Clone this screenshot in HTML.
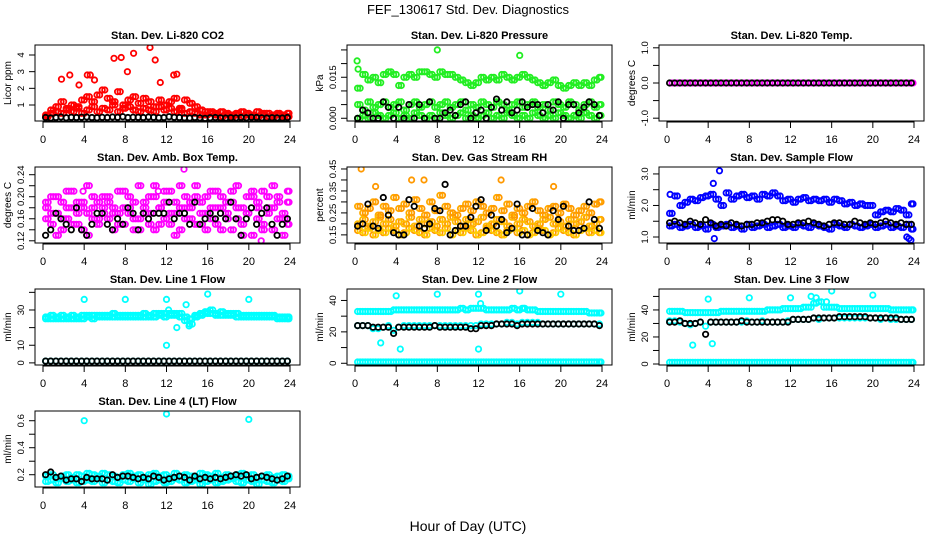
<!DOCTYPE html>
<html><head><meta charset="utf-8"><style>
html,body{margin:0;padding:0;background:#fff;}
svg{display:block;font-family:"Liberation Sans",Arial,sans-serif;}
</style></head><body>
<svg id="chart" width="936" height="540" viewBox="0 0 936 540" xmlns="http://www.w3.org/2000/svg">
<text x="468" y="14" text-anchor="middle" font-size="13">FEF_130617  Std. Dev. Diagnostics</text>
<text x="468" y="531" text-anchor="middle" font-size="14">Hour of Day (UTC)</text>
</svg>
<script>
const hours=[0.25,0.75,1.25,1.75,2.25,2.75,3.25,3.75,4.25,4.75,5.25,5.75,6.25,6.75,7.25,7.75,8.25,8.75,9.25,9.75,10.25,10.75,11.25,11.75,12.25,12.75,13.25,13.75,14.25,14.75,15.25,15.75,16.25,16.75,17.25,17.75,18.25,18.75,19.25,19.75,20.25,20.75,21.25,21.75,22.25,22.75,23.25,23.75];
const hoursB=[0.5,1.0,1.5,2.0,2.5,3.0,3.5,4.0,4.5,5.0,5.5,6.0,6.5,7.0,7.5,8.0,8.5,9.0,9.5,10.0,10.5,11.0,11.5,12.0,12.5,13.0,13.5,14.0,14.5,15.0,15.5,16.0,16.5,17.0,17.5,18.0,18.5,19.0,19.5,20.0,20.5,21.0,21.5,22.0,22.5,23.0,23.5,23.9];
const xTicks=[0,4,8,12,16,20,24];
const co2Main=[0.4,0.7,0.9,1.2,0.8,1.0,0.9,1.3,1.5,1.2,1.6,1.9,1.4,1.2,1.8,1.0,1.3,1.5,1.1,1.4,1.2,0.9,1.3,1.0,1.2,1.4,0.8,1.3,1.1,0.9,0.7,0.6,0.6,0.5,0.6,0.5,0.4,0.5,0.6,0.5,0.4,0.6,0.5,0.5,0.4,0.5,0.4,0.5];
const co2Low=[0.3,0.5,0.6,0.5,0.7,0.6,0.8,0.5,0.7,0.9,0.6,0.8,0.7,1.0,0.6,0.8,0.9,0.7,0.6,0.8,0.7,0.6,0.9,0.7,0.8,0.6,0.7,0.5,0.6,0.5,0.4,0.4,0.5,0.4,0.3,0.4,0.3,0.4,0.3,0.4,0.3,0.3,0.4,0.3,0.3,0.4,0.3,0.3];
const co2Black=[0.25,0.22,0.25,0.28,0.24,0.26,0.25,0.27,0.28,0.25,0.24,0.26,0.25,0.28,0.26,0.3,0.25,0.27,0.26,0.25,0.28,0.26,0.24,0.25,0.3,0.26,0.25,0.24,0.22,0.25,0.23,0.2,0.24,0.25,0.23,0.22,0.24,0.23,0.25,0.24,0.26,0.25,0.23,0.22,0.24,0.23,0.22,0.25];
const co2PeakX=[1.8,2.6,6.9,7.6,8.8,10.4,10.9,8.2,12.7,13.0,4.3,4.6,3.5,11.4,5.0];
const co2PeakY=[2.55,2.8,3.8,3.85,4.1,4.45,3.7,3.0,2.8,2.85,2.8,2.8,2.2,2.35,2.5];
const presHigh=[0.011,0.016,0.014,0.015,0.013,0.016,0.017,0.016,0.012,0.015,0.016,0.015,0.017,0.017,0.016,0.015,0.017,0.016,0.016,0.015,0.014,0.013,0.012,0.013,0.015,0.014,0.015,0.014,0.016,0.015,0.014,0.015,0.016,0.015,0.014,0.013,0.012,0.013,0.014,0.012,0.011,0.012,0.013,0.012,0.013,0.012,0.014,0.015];
const presMid=[0.005,0.003,0.006,0.004,0.005,0.006,0.004,0.005,0.006,0.003,0.005,0.006,0.004,0.005,0.006,0.004,0.005,0.006,0.004,0.005,0.006,0.003,0.005,0.004,0.006,0.005,0.004,0.006,0.005,0.003,0.005,0.006,0.004,0.005,0.006,0.004,0.005,0.003,0.006,0.005,0.004,0.006,0.005,0.003,0.005,0.006,0.004,0.005];
const presLow=[0.000,0.001,0.000,0.002,0.001,0.000,0.001,0.002,0.000,0.001,0.000,0.002,0.001,0.000,0.001,0.000,0.002,0.001,0.000,0.001,0.002,0.000,0.001,0.000,0.001,0.002,0.000,0.001,0.000,0.002,0.001,0.000,0.001,0.000,0.002,0.001,0.000,0.001,0.000,0.002,0.001,0.000,0.001,0.000,0.002,0.001,0.000,0.001];
const presBlack=[0.000,0.003,0.002,0.000,0.000,0.006,0.004,0.000,0.004,0.000,0.005,0.000,0.005,0.000,0.006,0.000,0.000,0.002,0.003,0.001,0.005,0.006,0.000,0.002,0.003,0.000,0.004,0.007,0.003,0.006,0.002,0.003,0.006,0.004,0.005,0.005,0.002,0.005,0.003,0.006,0.000,0.005,0.005,0.002,0.004,0.006,0.005,0.001];
const presOutX=[0.2,8.0,16.0,0.3];
const presOutY=[0.021,0.025,0.023,0.018];
const tempMag=[0,0,0,0,0,0,0,0,0,0,0,0,0,0,0,0,0,0,0,0,0,0,0,0,0,0,0,0,0,0,0,0,0,0,0,0,0,0,0,0,0,0,0,0,0,0,0,0];
const tempBlack=[0,0,0,0,0,0,0,0,0,0,0,0,0,0,0,0,0,0,0,0,0,0,0,0,0,0,0,0,0,0,0,0,0,0,0,0,0,0,0,0,0,0,0,0,0,0,0,0];
const ambA=[0.19,0.17,0.20,0.16,0.18,0.21,0.17,0.19,0.22,0.18,0.16,0.20,0.19,0.17,0.21,0.18,0.20,0.16,0.22,0.19,0.17,0.20,0.18,0.21,0.17,0.19,0.22,0.18,0.16,0.20,0.19,0.17,0.21,0.18,0.20,0.16,0.19,0.22,0.18,0.17,0.20,0.19,0.21,0.17,0.18,0.20,0.16,0.19];
const ambB=[0.16,0.15,0.17,0.14,0.16,0.18,0.15,0.14,0.17,0.16,0.15,0.18,0.16,0.14,0.17,0.15,0.18,0.14,0.16,0.17,0.15,0.14,0.18,0.16,0.15,0.17,0.14,0.16,0.18,0.15,0.17,0.14,0.16,0.15,0.18,0.17,0.14,0.16,0.15,0.17,0.13,0.16,0.15,0.18,0.14,0.16,0.17,0.15];
const ambC=[0.18,0.20,0.13,0.19,0.21,0.15,0.19,0.18,0.13,0.20,0.19,0.17,0.20,0.18,0.15,0.21,0.17,0.19,0.14,0.18,0.20,0.22,0.15,0.19,0.21,0.13,0.18,0.20,0.19,0.22,0.15,0.20,0.18,0.21,0.14,0.19,0.21,0.18,0.13,0.20,0.21,0.18,0.14,0.20,0.22,0.19,0.13,0.21];
const ambBlack=[0.13,0.14,0.17,0.16,0.15,0.14,0.18,0.14,0.13,0.15,0.17,0.17,0.15,0.14,0.16,0.15,0.18,0.17,0.14,0.17,0.16,0.17,0.17,0.17,0.19,0.16,0.17,0.17,0.15,0.19,0.15,0.16,0.17,0.16,0.17,0.16,0.19,0.16,0.13,0.16,0.18,0.15,0.17,0.18,0.15,0.13,0.15,0.16];
const ambOutX=[13.7,3.9,11.2,21.2];
const ambOutY=[0.25,0.21,0.21,0.12];
const rhA=[0.17,0.16,0.18,0.15,0.17,0.16,0.18,0.17,0.15,0.16,0.18,0.17,0.16,0.15,0.18,0.17,0.16,0.18,0.15,0.17,0.16,0.18,0.17,0.15,0.16,0.18,0.17,0.16,0.15,0.17,0.18,0.16,0.17,0.15,0.16,0.18,0.17,0.15,0.16,0.18,0.17,0.16,0.15,0.17,0.18,0.16,0.17,0.16];
const rhB=[0.28,0.25,0.27,0.30,0.24,0.28,0.26,0.32,0.27,0.29,0.25,0.31,0.27,0.24,0.30,0.26,0.33,0.28,0.25,0.24,0.27,0.29,0.26,0.30,0.28,0.25,0.27,0.32,0.26,0.29,0.24,0.27,0.25,0.28,0.30,0.26,0.24,0.27,0.28,0.25,0.29,0.27,0.24,0.26,0.28,0.25,0.29,0.30];
const rhC=[0.20,0.22,0.19,0.21,0.23,0.20,0.22,0.19,0.21,0.20,0.23,0.19,0.22,0.20,0.21,0.19,0.22,0.20,0.23,0.21,0.19,0.22,0.20,0.21,0.23,0.19,0.20,0.22,0.21,0.19,0.23,0.20,0.22,0.21,0.19,0.20,0.22,0.23,0.20,0.21,0.19,0.22,0.20,0.21,0.23,0.19,0.20,0.22];
const rhBlack=[0.19,0.20,0.29,0.19,0.18,0.32,0.24,0.16,0.15,0.15,0.31,0.28,0.19,0.18,0.20,0.27,0.26,0.38,0.15,0.17,0.19,0.19,0.23,0.28,0.31,0.17,0.24,0.19,0.22,0.16,0.18,0.29,0.15,0.15,0.27,0.17,0.16,0.15,0.26,0.22,0.28,0.19,0.17,0.17,0.18,0.30,0.22,0.18];
const rhOutX=[0.6,5.5,6.7,14.2,2.0,19.3];
const rhOutY=[0.45,0.40,0.40,0.40,0.37,0.37];
const sfHigh=[1.75,2.3,2.0,2.1,2.2,2.15,2.25,2.3,2.35,2.2,2.0,2.4,2.2,2.3,2.35,2.25,2.3,2.2,2.35,2.3,2.4,2.3,2.15,2.2,2.1,2.2,2.25,2.15,2.2,2.15,2.2,2.1,2.2,2.15,2.05,2.1,2.0,2.05,2.0,2.0,1.7,1.8,1.85,1.8,1.9,1.85,1.7,2.05];
const sfLow=[1.35,1.4,1.3,1.35,1.4,1.3,1.35,1.25,1.4,1.3,1.35,1.4,1.3,1.35,1.25,1.4,1.3,1.35,1.4,1.3,1.35,1.4,1.3,1.35,1.3,1.4,1.35,1.3,1.4,1.35,1.3,1.25,1.4,1.35,1.3,1.4,1.35,1.3,1.35,1.4,1.3,1.35,1.4,1.3,1.35,1.3,1.4,1.25];
const sfBlack=[1.45,1.5,1.45,1.4,1.5,1.45,1.4,1.55,1.45,1.35,1.4,1.35,1.45,1.4,1.35,1.4,1.4,1.45,1.45,1.5,1.55,1.55,1.5,1.4,1.4,1.45,1.45,1.5,1.45,1.4,1.35,1.4,1.45,1.45,1.4,1.4,1.5,1.45,1.4,1.45,1.4,1.45,1.5,1.45,1.4,1.45,1.4,1.4];
const sfOutX=[5.1,4.5,4.6,23.3,23.5,23.7,0.3];
const sfOutY=[3.1,2.7,0.95,1.0,0.95,0.9,2.35];
const l1Band=[26,27,26,27,26,27,26,27,27,27,27,27,27,28,27,27,27,27,27,28,27,28,28,28,28,28,28,24,22,26,28,29,30,28,29,28,28,28,27,27,27,27,27,27,27,26,26,26];
const l1Band2=[25,25,25,25,25,25,25,25,26,25,26,26,26,26,26,26,26,26,26,26,26,26,27,26,27,27,26,26,25,27,27,28,28,27,27,27,27,26,26,26,26,26,26,26,26,25,25,25];
const l1Low=[1,1,1,1,1,1,1,1,1,1,1,1,1,1,1,1,1,1,1,1,1,1,1,1,1,1,1,1,1,1,1,1,1,1,1,1,1,1,1,1,1,1,1,1,1,1,1,1];
const l1Black=[1,1,1,1,1,1,1,1,1,1,1,1,1,1,1,1,1,1,1,1,1,1,1,1,1,1,1,1,1,1,1,1,1,1,1,1,1,1,1,1,1,1,1,1,1,1,1,1];
const l1OutX=[4,8,12,16,20,12,13,13.9,14.2,12.2];
const l1OutY=[36,36,36,39,36,10,20,33,21,30];
const l2High=[33,33,33,33,33,33,33,34,34,34,34,34,34,34,34,34,34,34,34,34,35,34,35,35,35,34,34,34,34,34,35,34,35,34,34,33,33,33,33,33,33,33,33,33,33,32,32,32];
const l2Mid=[24,24,24,22,22,23,24,21,23,24,24,24,24,24,24,24,24,24,24,24,24,24,24,24,25,25,25,25,25,26,26,25,26,26,26,26,25,25,25,25,25,25,25,25,25,25,25,25];
const l2Low=[0.8,0.8,0.8,0.8,0.8,0.8,0.8,0.8,0.8,0.8,0.8,0.8,0.8,0.8,0.8,0.8,0.8,0.8,0.8,0.8,0.8,0.8,0.8,0.8,0.8,0.8,0.8,0.8,0.8,0.8,0.8,0.8,0.8,0.8,0.8,0.8,0.8,0.8,0.8,0.8,0.8,0.8,0.8,0.8,0.8,0.8,0.8,0.8];
const l2Black=[24,24,24,23,23,23,23,19,23,23,23,23,23,23,23,24,23,23,23,23,23,23,22,22,24,24,24,25,25,25,25,24,25,25,25,25,25,25,25,25,25,25,25,25,25,25,25,24];
const l2OutX=[4,8,12,16,20,2.5,4.4,12,12.2,16.4];
const l2OutY=[43,44,44,46,44,13,9,9,38,35];
const l3High=[39,39,39,38,38,38,38,38,38,38,39,39,39,39,39,39,39,39,39,40,40,40,41,41,41,41,42,42,45,46,42,42,42,41,41,41,41,41,41,41,41,41,41,40,40,40,40,40];
const l3Mid=[32,32,31,30,29,30,31,28,31,31,31,31,31,31,31,32,31,31,32,31,31,31,31,32,33,33,33,33,34,33,34,34,34,34,34,34,34,34,34,34,34,33,34,33,33,33,33,33];
const l3Low=[1.2,1.2,1.2,1.2,1.2,1.2,1.2,1.2,1.2,1.2,1.2,1.2,1.2,1.2,1.2,1.2,1.2,1.2,1.2,1.2,1.2,1.2,1.2,1.2,1.2,1.2,1.2,1.2,1.2,1.2,1.2,1.2,1.2,1.2,1.2,1.2,1.2,1.2,1.2,1.2,1.2,1.2,1.2,1.2,1.2,1.2,1.2,1.2];
const l3Black=[31,31,32,30,30,30,31,22,31,31,31,31,31,31,32,31,31,31,31,31,31,31,31,31,33,33,33,33,34,34,34,34,34,35,35,35,35,35,35,34,34,34,34,34,34,33,33,33];
const l3OutX=[4,8,12,20,2.5,4.4,14,14.5,15.5,16];
const l3OutY=[48,49,49,51,14,15,50,49,46,54];
const l4A=[0.19,0.20,0.17,0.19,0.20,0.18,0.20,0.19,0.21,0.20,0.19,0.21,0.20,0.19,0.18,0.20,0.21,0.19,0.20,0.18,0.20,0.21,0.19,0.20,0.18,0.21,0.19,0.20,0.19,0.18,0.21,0.20,0.19,0.21,0.18,0.20,0.19,0.20,0.21,0.19,0.20,0.18,0.19,0.20,0.18,0.19,0.20,0.19];
const l4B=[0.15,0.16,0.14,0.17,0.15,0.16,0.14,0.15,0.16,0.15,0.17,0.14,0.16,0.15,0.14,0.16,0.15,0.17,0.14,0.16,0.13,0.15,0.16,0.14,0.15,0.17,0.16,0.14,0.15,0.16,0.13,0.15,0.16,0.14,0.15,0.16,0.17,0.15,0.14,0.16,0.15,0.13,0.16,0.15,0.14,0.16,0.15,0.17];
const l4Black=[0.20,0.22,0.18,0.19,0.16,0.17,0.17,0.15,0.18,0.17,0.17,0.17,0.16,0.20,0.18,0.19,0.19,0.18,0.17,0.18,0.17,0.19,0.18,0.16,0.17,0.18,0.19,0.18,0.16,0.19,0.17,0.18,0.17,0.18,0.17,0.18,0.19,0.20,0.19,0.20,0.17,0.18,0.19,0.18,0.17,0.16,0.17,0.19];
const l4OutX=[4,12,20];
const l4OutY=[0.6,0.65,0.61];

const NS="http://www.w3.org/2000/svg";
const svg=document.getElementById('chart');
function el(tag,attrs,parent){const e=document.createElementNS(NS,tag);for(const k in attrs)e.setAttribute(k,attrs[k]);(parent||svg).appendChild(e);return e;}

const panels=[
 {key:'co2',title:'Stan. Dev. Li-820 CO2',ylab:'Licor ppm',col:0,row:0,yMin:0.04,yMax:4.6,ticks:[1,2,3,4],labels:['1','2','3','4'],
  series:[[hours,co2Low,'#ff0000'],[hoursB,co2Main,'#ff0000'],[hours,co2Main,'#ff0000'],[hoursB,co2Low,'#ff0000'],[co2PeakX,co2PeakY,'#ff0000'],[hours,co2Black,'#000000']]},
 {key:'pressure',title:'Stan. Dev. Li-820 Pressure',ylab:'kPa',col:1,row:0,yMin:-0.001,yMax:0.0268,ticks:[0,0.005,0.01,0.015,0.02,0.025],labels:['0.000','','','0.015','',''],
  series:[[hours,presHigh,'#22ee22'],[hoursB,presHigh,'#22ee22'],[hours,presMid,'#22ee22'],[hoursB,presMid,'#22ee22'],[hours,presLow,'#22ee22'],[hoursB,presLow,'#22ee22'],[presOutX,presOutY,'#22ee22'],[hours,presBlack,'#000000']]},
 {key:'temp',title:'Stan. Dev. Li-820 Temp.',ylab:'degrees C',col:2,row:0,yMin:-1.08,yMax:1.08,ticks:[-1,-0.5,0,0.5,1],labels:['-1.0','','0.0','','1.0'],
  series:[[hoursB,tempMag,'#ff00ff'],[hours,tempBlack,'#000000']]},
 {key:'ambtemp',title:'Stan. Dev. Amb. Box Temp.',ylab:'degrees C',col:0,row:1,yMin:0.116,yMax:0.254,ticks:[0.12,0.14,0.16,0.18,0.2,0.22,0.24],labels:['0.12','','0.16','','0.20','','0.24'],
  series:[[hours,ambA,'#ff00ff'],[hoursB,ambB,'#ff00ff'],[hours,ambB,'#ff00ff'],[hoursB,ambC,'#ff00ff'],[hours,ambC,'#ff00ff'],[hoursB,ambA,'#ff00ff'],[ambOutX,ambOutY,'#ff00ff'],[hours,ambBlack,'#000000']]},
 {key:'rh',title:'Stan. Dev. Gas Stream RH',ylab:'percent',col:1,row:1,yMin:0.113,yMax:0.459,ticks:[0.15,0.2,0.25,0.3,0.35,0.4,0.45],labels:['0.15','','0.25','','0.35','','0.45'],
  series:[[hours,rhA,'#ff9900'],[hoursB,rhA,'#ffcc00'],[hours,rhB,'#ffaa00'],[hoursB,rhC,'#ff9900'],[hours,rhC,'#ffbb00'],[hoursB,rhB,'#ff9900'],[rhOutX,rhOutY,'#ff9900'],[hours,rhBlack,'#000000']]},
 {key:'sampleflow',title:'Stan. Dev. Sample Flow',ylab:'ml/min',col:2,row:1,yMin:0.81,yMax:3.22,ticks:[1,1.5,2,2.5,3],labels:['1.0','','2.0','','3.0'],
  series:[[hours,sfHigh,'#0000ff'],[hoursB,sfHigh,'#0000ff'],[hours,sfLow,'#0000ff'],[hoursB,sfLow,'#0000ff'],[sfOutX,sfOutY,'#0000ff'],[hours,sfBlack,'#000000']]},
 {key:'line1',title:'Stan. Dev. Line 1 Flow',ylab:'ml/min',col:0,row:2,yMin:-1.2,yMax:41.9,ticks:[0,10,20,30,40],labels:['0','10','','30',''],
  series:[[hours,l1Band2,'#00ffff'],[hoursB,l1Band2,'#00ffff'],[hours,l1Band,'#00ffff'],[hoursB,l1Band,'#00ffff'],[hours,l1Low,'#00ffff'],[l1OutX,l1OutY,'#00ffff'],[hours,l1Black,'#000000']]},
 {key:'line2',title:'Stan. Dev. Line 2 Flow',ylab:'ml/min',col:1,row:2,yMin:-1.1,yMax:47.3,ticks:[0,10,20,30,40],labels:['0','','20','','40'],
  series:[[hours,l2High,'#00ffff'],[hoursB,l2High,'#00ffff'],[hours,l2Mid,'#00ffff'],[hours,l2Low,'#00ffff'],[hoursB,l2Low,'#00ffff'],[l2OutX,l2OutY,'#00ffff'],[hours,l2Black,'#000000']]},
 {key:'line3',title:'Stan. Dev. Line 3 Flow',ylab:'ml/min',col:2,row:2,yMin:-0.75,yMax:55.5,ticks:[0,10,20,30,40,50],labels:['0','','20','','40',''],
  series:[[hours,l3High,'#00ffff'],[hoursB,l3High,'#00ffff'],[hours,l3Mid,'#00ffff'],[hours,l3Low,'#00ffff'],[hoursB,l3Low,'#00ffff'],[l3OutX,l3OutY,'#00ffff'],[hours,l3Black,'#000000']]},
 {key:'line4',title:'Stan. Dev. Line 4 (LT) Flow',ylab:'ml/min',col:0,row:3,yMin:0.109,yMax:0.672,ticks:[0.2,0.3,0.4,0.5,0.6],labels:['0.2','','0.4','','0.6'],
  series:[[hours,l4A,'#00ffff'],[hoursB,l4A,'#00ffff'],[hours,l4B,'#00ffff'],[hoursB,l4B,'#00ffff'],[l4OutX,l4OutY,'#00ffff'],[hours,l4Black,'#000000']]}
];

panels.forEach(p=>{
  const left=35+312*p.col, top=45+122*p.row, w=265, h=76, bottom=top+h;
  const x0=left+8, x1=left+255;
  const xs=v=>x0+(v/24)*(x1-x0);
  const ys=v=>bottom-(v-p.yMin)/(p.yMax-p.yMin)*h;
  const g=el('g',{});
  
  
  const clip=el('clipPath',{id:'clip-'+p.key},g);
  el('rect',{x:left,y:top,width:w,height:h},clip);
  const pts=el('g',{'clip-path':'url(#clip-'+p.key+')'},g);
  
  
  p.series.forEach(s=>{
    const X=s[0],Y=s[1],col=s[2];
    for(let i=0;i<Y.length;i++){
      const c=el('circle',{cx:xs(X[i]).toFixed(1),cy:ys(Y[i]).toFixed(1),r:2.7,fill:'none',stroke:col,'stroke-width':1.8},pts);
      
      
    }
  });
  const box=el('rect',{x:left,y:top,width:w,height:h,fill:'none',stroke:'#000','stroke-width':1},g);
  
  
  const t=el('text',{x:left+w/2,y:top-6,'text-anchor':'middle','font-size':11,'font-weight':'bold'},g);
  t.textContent=p.title;
  
  
  el('line',{x1:x0,y1:bottom+1,x2:x1,y2:bottom+1,stroke:'#000'},g);
  xTicks.forEach(v=>{
    el('line',{x1:xs(v),y1:bottom,x2:xs(v),y2:bottom+7,stroke:'#000'},g);
    const tl=el('text',{x:xs(v),y:bottom+22,'text-anchor':'middle','font-size':11},g);
    tl.textContent=v;
    
    
  });
  el('line',{x1:left,y1:ys(p.ticks[0]),x2:left,y2:ys(p.ticks[p.ticks.length-1]),stroke:'#000'},g);
  p.ticks.forEach((v,i)=>{
    el('line',{x1:left-6,y1:ys(v),x2:left,y2:ys(v),stroke:'#000'},g);
    if(p.labels[i]){
      const yy=ys(v);
      const tl=el('text',{x:left-11,y:yy,'text-anchor':'middle','font-size':9.5,transform:'rotate(-90 '+(left-11)+' '+yy+')'},g);
      tl.textContent=p.labels[i];
      
      
    }
  });
  const cy=top+h/2;
  const yl=el('text',{x:left-24,y:cy,'text-anchor':'middle','font-size':10,transform:'rotate(-90 '+(left-24)+' '+cy+')'},g);
  yl.textContent=p.ylab;
  
  
});
</script>
</body></html>
